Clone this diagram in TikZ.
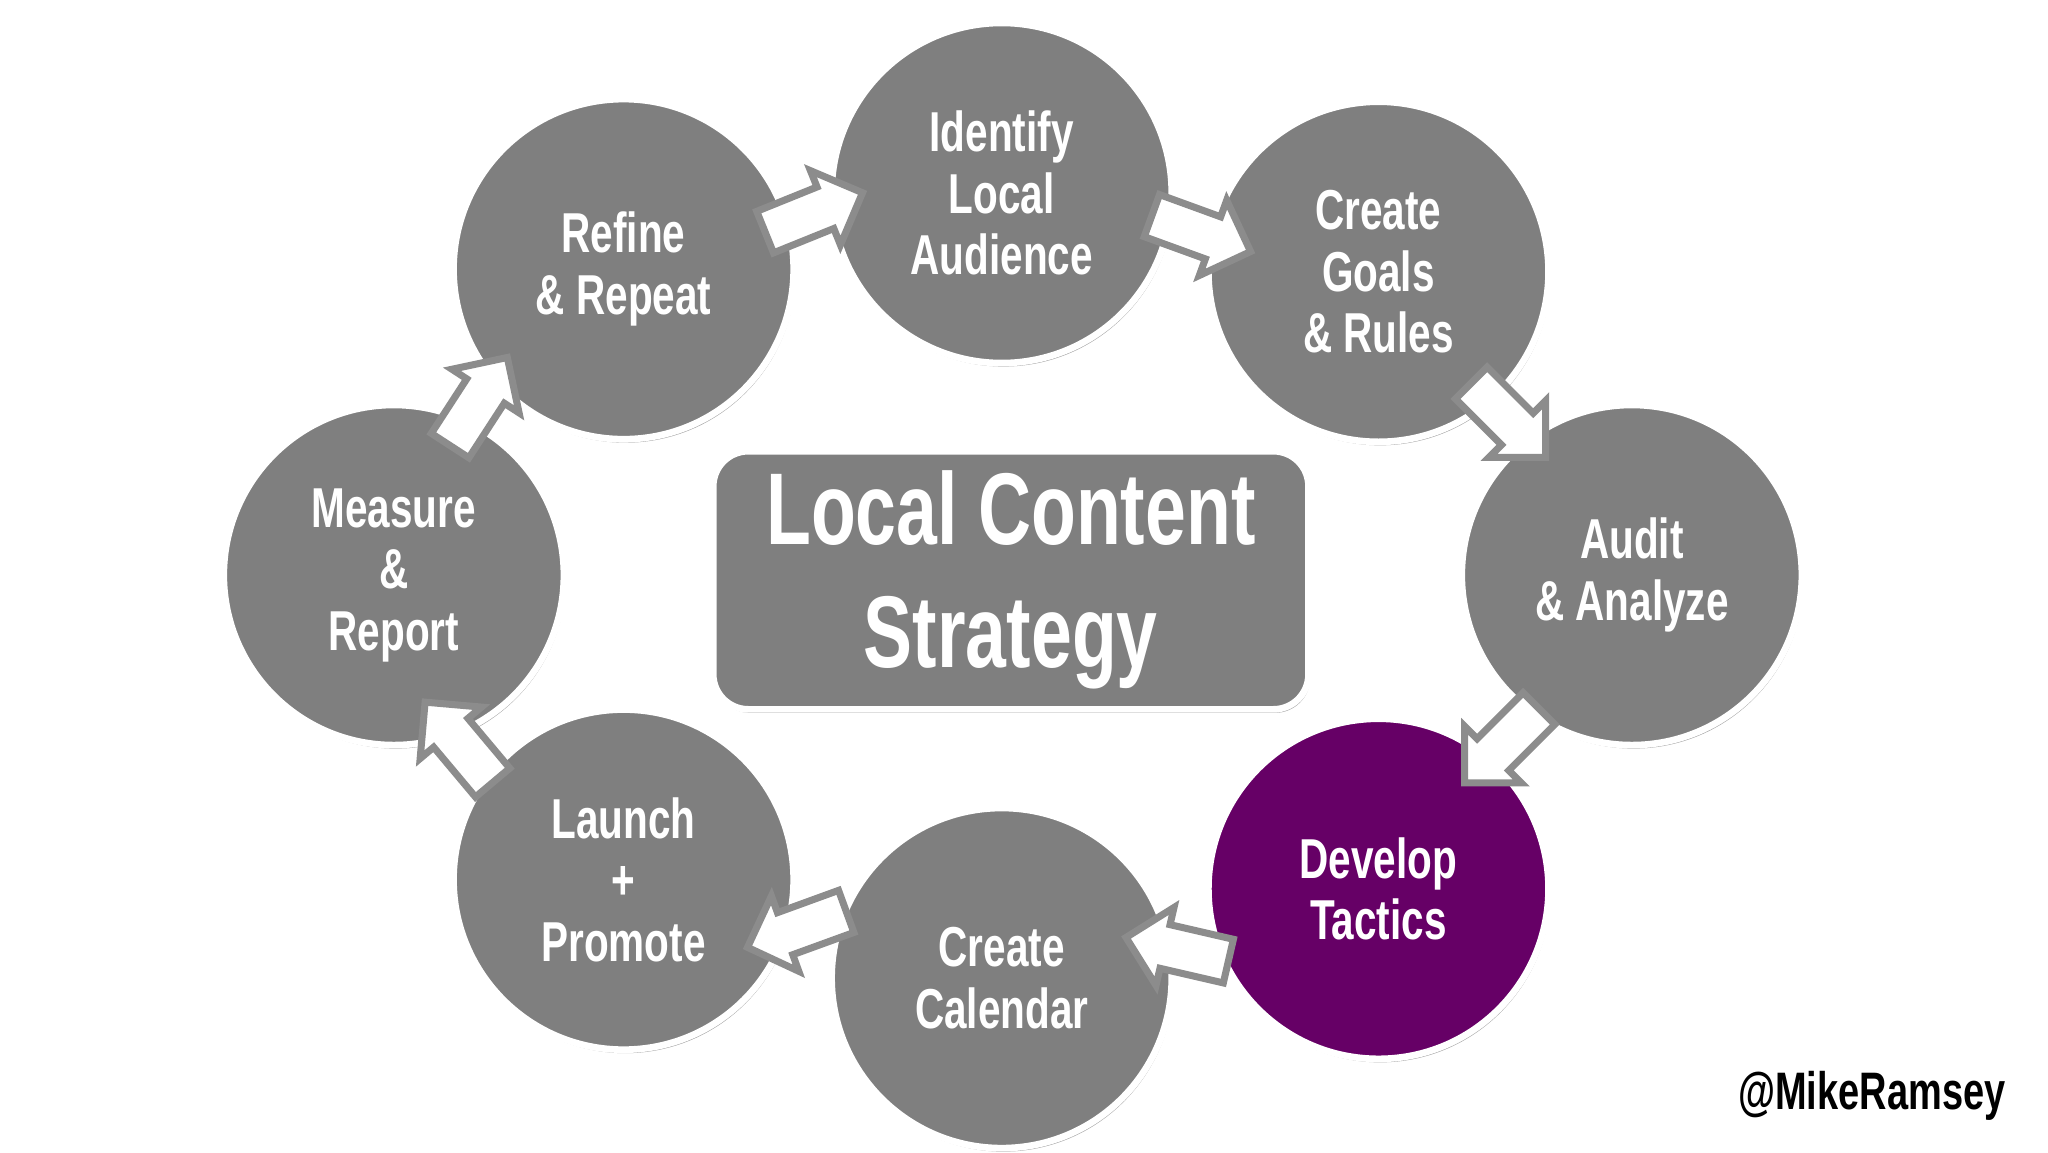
\documentclass[tikz,border=0pt]{standalone}
\usepackage{fontspec}
\setmainfont{Liberation Sans}[FakeStretch=0.72,BoldFont={Liberation Sans Bold}]
\usetikzlibrary{shapes.arrows,shadows}
\definecolor{cgray}{HTML}{7F7F7F}
\definecolor{cpurple}{HTML}{660066}
\definecolor{agray}{HTML}{8C8C8C}
\begin{document}
\begin{tikzpicture}[x=0.013128cm,y=-0.013128cm,
  circ/.style={circle,draw=white,line width=1.9pt,fill=cgray,minimum size=3.4cm,inner sep=0pt,
    text=white,font=\bfseries\fontsize{16}{17.5}\selectfont,align=center,
    drop shadow={shadow xshift=0.5pt,shadow yshift=-1pt,fill=black,opacity=0.35}},
  blk/.style={single arrow,draw=agray,fill=white,line width=2pt,minimum height=1.05cm,
    minimum width=0.8cm,single arrow head extend=0.13cm,inner xsep=0pt,inner ysep=0.13cm,
    single arrow head indent=0pt}]
\useasboundingbox (0,0) rectangle (1560,877.5);
\node[circ] (ident) at (763,147) {Identify\\Local\\Audience};
\node[circ] (goals) at (1050,207) {Create\\Goals\\\& Rules};
\node[circ] (audit) at (1243,438) {Audit\\\& Analyze};
\node[circ,fill=cpurple] (dev) at (1050,677) {Develop\\Tactics};
\node[circ] (cal) at (763,745) {Create\\Calendar};
\node[circ] (launch) at (475,670) {Launch\\+\\Promote};
\node[circ] (meas) at (300,438) {Measure\\\&\\Report};
\node[circ] (ref) at (475,205) {Refine\\\& Repeat};
\node[rounded corners=0.35cm,draw=white,line width=1.9pt,fill=cgray,minimum width=5.95cm,minimum height=2.58cm,
  text=white,font=\bfseries\fontsize{29}{35}\selectfont,align=center,
  drop shadow={shadow xshift=0.5pt,shadow yshift=-1pt,fill=black,opacity=0.35}] (title) at (770,442) {Local Content\\Strategy};
\node[blk,rotate=22] (a1) at (612,165) {};
\node[blk,rotate=-20] (a2) at (907,175) {};
\node[blk,rotate=-45] (a3) at (1143,314) {};
\node[blk,rotate=-135] (a4) at (1150,562) {};
\node[blk,rotate=167] (a5) at (905,725) {};
\node[blk,rotate=200] (a6) at (615,705) {};
\node[blk,rotate=130] (a7) at (355,572) {};
\node[blk,rotate=57] (a8) at (360,313) {};
\node[font=\bfseries\fontsize{15}{16}\selectfont,anchor=east] (sig) at (1537,835) {@MikeRamsey};
\end{tikzpicture}
\end{document}
